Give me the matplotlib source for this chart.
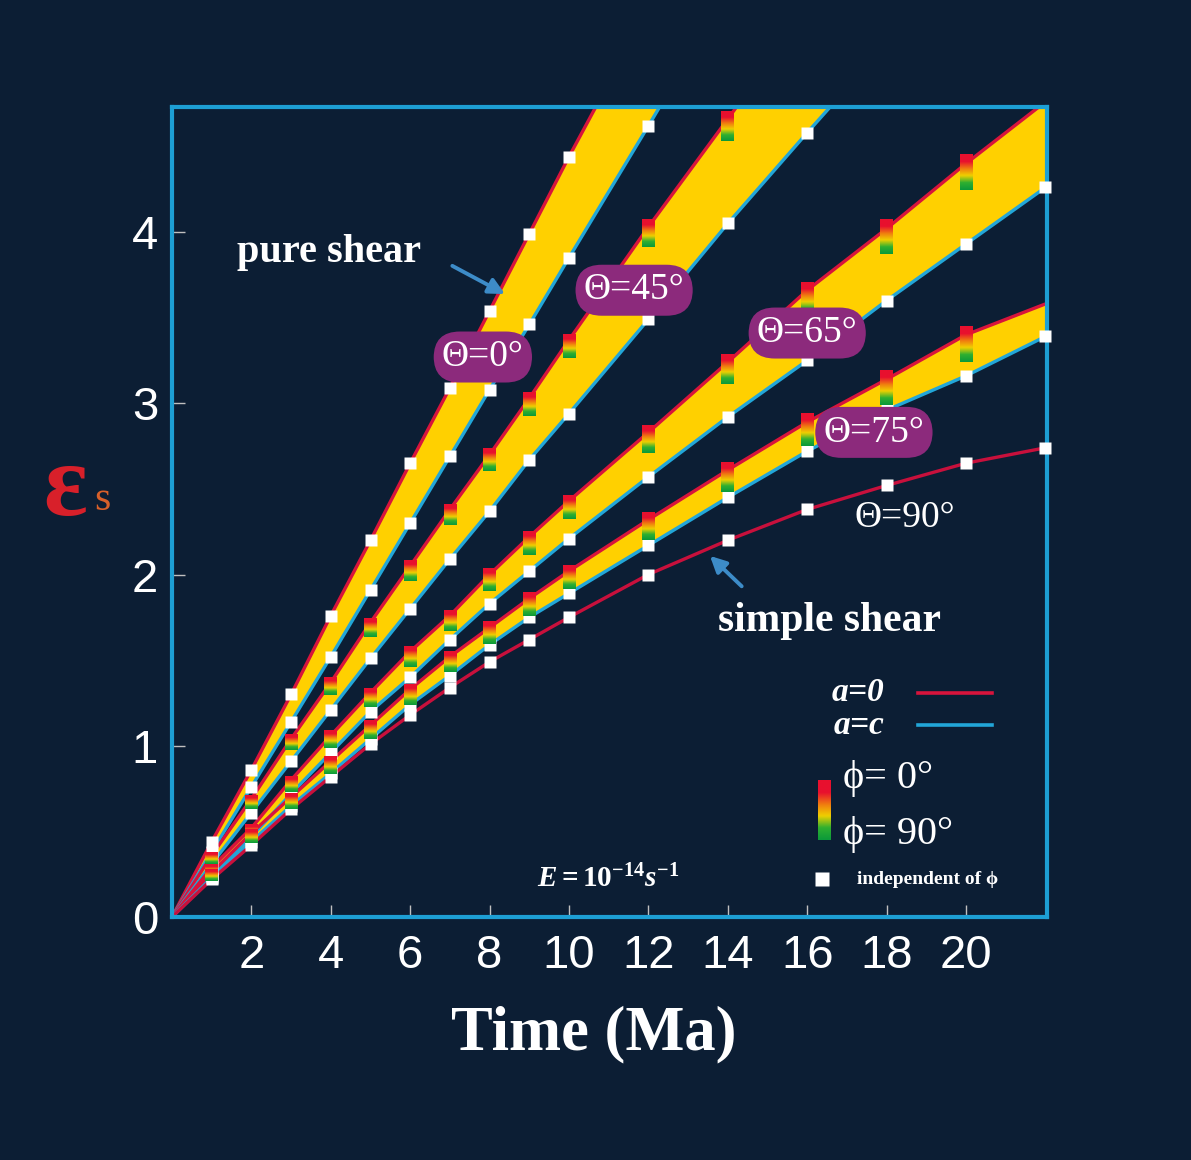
import numpy as np
import matplotlib.pyplot as plt
from matplotlib.colors import LinearSegmentedColormap

plt.rcParams['font.family'] = ['Liberation Sans', 'DejaVu Sans']
plt.rcParams['mathtext.fontset'] = 'custom'
plt.rcParams['mathtext.it'] = 'Liberation Serif:italic:bold'
plt.rcParams['mathtext.rm'] = 'Liberation Serif:bold'

SERIF = ['Liberation Serif', 'DejaVu Serif']

# time steps (Ma) at which the model was evaluated
t = [1, 2, 3, 4, 5, 6, 7, 8, 9, 10, 12, 14, 16, 18, 20, 22]

# height of the phi range bars (strain units); 0 means no bar
phi_h = [0.07, 0.08, 0.09, 0.10, 0.11, 0.12, 0.12, 0.13, 0.14, 0.14,
         0.16, 0.17, 0.19, 0.20, 0.21, 0.0]

nan = np.nan
# strain curves, a=0 (upper, red) and a=c (lower, blue)
th0_a0 = [0.44, 0.86, 1.30, 1.76, 2.20, 2.65, 3.09, 3.54, 3.99, 4.44,
          5.30, 6.20, nan, nan, nan, nan]
th0_ac = [0.38, 0.76, 1.14, 1.52, 1.91, 2.30, 2.69, 3.08, 3.46, 3.85,
          4.62, 5.40, nan, nan, nan, nan]
th45_a0 = [0.36, 0.69, 1.04, 1.37, 1.72, 2.05, 2.38, 2.70, 3.03, 3.37,
           4.03, 4.66, 5.30, 5.90, nan, nan]
th45_ac = [0.31, 0.61, 0.91, 1.21, 1.51, 1.80, 2.09, 2.37, 2.67, 2.94,
           3.49, 4.05, 4.58, 5.10, nan, nan]
th65_a0 = [0.29, 0.52, 0.80, 1.06, 1.31, 1.55, 1.76, 2.00, 2.22, 2.43,
           2.83, 3.24, 3.66, 4.02, 4.40, 4.76]
th65_ac = [0.24, 0.47, 0.72, 0.96, 1.20, 1.40, 1.62, 1.83, 2.02, 2.21,
           2.57, 2.92, 3.25, 3.60, 3.93, 4.26]
th75_a0 = [0.26, 0.49, 0.70, 0.91, 1.12, 1.33, 1.52, 1.69, 1.86, 2.02,
           2.32, 2.61, 2.89, 3.14, 3.40, 3.58]
th75_ac = [0.23, 0.44, 0.65, 0.84, 1.04, 1.24, 1.41, 1.59, 1.75, 1.89,
           2.17, 2.45, 2.72, 2.96, 3.16, 3.39]
th90 = [0.22, 0.42, 0.63, 0.82, 1.01, 1.18, 1.34, 1.49, 1.62, 1.75,
        2.00, 2.20, 2.38, 2.52, 2.65, 2.74]

# (upper, lower, upper markers depend on phi?)
bands = [
    (th0_a0, th0_ac, False),
    (th45_a0, th45_ac, True),
    (th65_a0, th65_ac, True),
    (th75_a0, th75_ac, True),
]

xticks = [2, 4, 6, 8, 10, 12, 14, 16, 18, 20]
yticks = [0, 1, 2, 3, 4]

BG = '#0c1e34'
SPINE = '#1d9fd4'
RED = '#d8143c'
BLUE = '#22a6d8'
YELLOW = '#ffd000'
PURPLE = '#8c2a7c'
ARROW = '#3d8cc8'

XMAX, YMAX = 22.04, 4.73
BAR_W = 0.32

phi_cmap = LinearSegmentedColormap.from_list(
    'phi', ['#0c9a3a', '#30b030', '#f0d000', '#f07a10', '#e8102e', '#e8102e'])


def add_phi_bar(ax, x, v, h, zorder=4):
    """Gradient bar, red (phi=0) on top, green (phi=90) at the bottom."""
    grad = np.linspace(1, 0, 40).reshape(-1, 1)
    ax.imshow(grad, cmap=phi_cmap, aspect='auto', origin='upper',
              extent=(x - BAR_W / 2, x + BAR_W / 2, v - 0.75 * h, v + 0.25 * h),
              zorder=zorder, clip_on=False, interpolation='bilinear')


fig = plt.figure(figsize=(11.91, 11.60), dpi=100, facecolor=BG)
ax = fig.add_axes([172 / 1191, 243 / 1160, 875 / 1191, 810 / 1160])
ax.set_facecolor(BG)

x_all = np.array([0] + t, dtype=float)

for upper, lower, phi_dep in bands:
    yu = np.array([0] + upper)
    yl = np.array([0] + lower)
    ax.fill_between(x_all, yl, yu, color=YELLOW, lw=0, zorder=1)
    ax.plot(x_all, yu, color=RED, lw=2.4, zorder=2, solid_capstyle='butt')
    ax.plot(x_all, yl, color=BLUE, lw=2.4, zorder=2, solid_capstyle='butt')

    tt = np.array(t, dtype=float)
    ul = np.array(lower)
    keep = ul < YMAX
    ax.plot(tt[keep], ul[keep], 's', color='white', ms=9, mec='none',
            zorder=3, clip_on=False)
    uu = np.array(upper)
    if phi_dep:
        for x, v, h in zip(t, upper, phi_h):
            if h > 0 and v + 0.25 * h < YMAX + 0.02:
                add_phi_bar(ax, x, v, h)
    else:
        keep = uu < YMAX
        ax.plot(tt[keep], uu[keep], 's', color='white', ms=9, mec='none',
                zorder=3, clip_on=False)

# simple shear: one curve
ax.plot(x_all, [0] + th90, color='#c8103c', lw=2.4, zorder=2)
ax.plot(t, th90, 's', color='white', ms=9, mec='none', zorder=3, clip_on=False)

ax.set_xlim(0, XMAX)
ax.set_ylim(0, YMAX)
ax.set_xticks(xticks)
ax.set_yticks(yticks)
ax.tick_params(direction='in', length=9, width=1, color='#c0c0c0',
               labelcolor='white', labelsize=34)
ax.tick_params(axis='x', pad=12)
ax.tick_params(axis='y', pad=10)
for sp in ax.spines.values():
    sp.set_color(SPINE)
    sp.set_linewidth(3)

fig.text(594 / 1191, 1 - 1034 / 1160, 'Time (Ma)', family=SERIF, weight='bold',
         size=45, color='white', ha='center', va='center')

# y label: epsilon_s in red
fig.text(0.036, 0.578, '\u03b5', family=SERIF, weight='bold', size=74,
         color='#d8202a', ha='left', va='center')
fig.text(0.079, 0.569, 's', family=SERIF, size=30, color='#d8602a',
         ha='left', va='center')

# curve labels
box = dict(boxstyle='round,pad=0.22,rounding_size=0.7', fc=PURPLE, ec='none')
for txt, x, y in [('\u0398=0\u00b0', 7.83, 3.27), ('\u0398=45\u00b0', 11.64, 3.66),
                  ('\u0398=65\u00b0', 16.0, 3.41), ('\u0398=75\u00b0', 17.68, 2.83)]:
    ax.text(x, y, txt, family=SERIF, size=27, color='white', ha='center',
            va='center', bbox=box, zorder=6)
ax.text(18.45, 2.33, '\u0398=90\u00b0', family=SERIF, size=27, color='white',
        ha='center', va='center', zorder=6)

ax.text(3.95, 3.88, 'pure shear', family=SERIF, weight='bold', size=29,
        color='white', ha='center', va='center', zorder=6)
ax.text(16.55, 1.73, 'simple shear', family=SERIF, weight='bold', size=30,
        color='white', ha='center', va='center', zorder=6)
arrow = dict(arrowstyle='-|>', color=ARROW, lw=2.8, mutation_scale=24)
ax.annotate('', xy=(8.45, 3.63), xytext=(7.0, 3.81), arrowprops=arrow, zorder=6)
ax.annotate('', xy=(13.5, 2.12), xytext=(14.4, 1.92), arrowprops=arrow, zorder=6)

ax.text(11.0, 0.22, r'$\mathit{E=10^{-14}s^{-1}}$', size=21, color='white',
        ha='center', va='center', zorder=6)

# legend
ax.text(17.95, 1.31, r'$\mathit{a}$=0', family=SERIF, weight='bold', style='italic',
        size=24, color='white', ha='right', va='center')
ax.text(17.95, 1.12, r'$\mathit{a}$=$\mathit{c}$', family=SERIF, weight='bold',
        style='italic', size=24, color='white', ha='right', va='center')
ax.plot([18.8, 20.65], [1.31, 1.31], color=RED, lw=2.6)
ax.plot([18.8, 20.65], [1.12, 1.12], color=BLUE, lw=2.6)
add_phi_bar(ax, 16.43, 0.715, 0.35, zorder=6)
ax.text(16.9, 0.81, '\u03d5= 0\u00b0', family=SERIF, size=29, color='white',
        ha='left', va='center')
ax.text(16.9, 0.48, '\u03d5= 90\u00b0', family=SERIF, size=29, color='white',
        ha='left', va='center')
ax.plot([16.37], [0.22], 's', color='white', ms=9.5, mec='none')
ax.text(17.25, 0.22, 'independent of \u03d5', family=SERIF, weight='bold',
        size=14, color='white', ha='left', va='center')

fig.savefig('out.png', dpi=100, facecolor=BG)
